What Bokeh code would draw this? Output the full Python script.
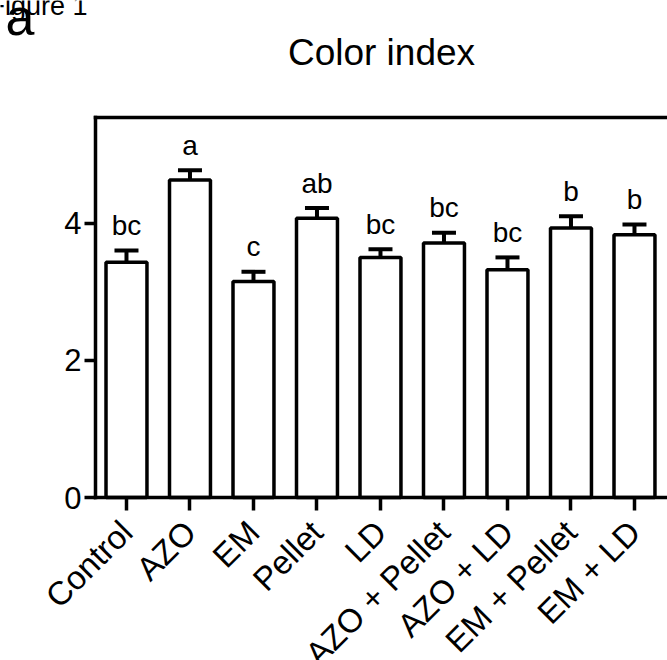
import math
from bokeh.plotting import figure
from bokeh.models import (ColumnDataSource, Whisker, TeeHead, LinearAxis,
                          FixedTicker, Range1d, Label)
from bokeh.core.properties import value
from bokeh.embed import file_html
from bokeh.resources import INLINE

categories = ["Control", "AZO", "EM", "Pellet", "LD",
              "AZO + Pellet", "AZO + LD", "EM + Pellet", "EM + LD"]
means = [3.43, 4.63, 3.15, 4.07, 3.50, 3.71, 3.32, 3.93, 3.83]
sems = [0.17, 0.14, 0.14, 0.15, 0.12, 0.15, 0.18, 0.17, 0.15]
letters = ["bc", "a", "c", "ab", "bc", "bc", "bc", "b", "b"]
y_ticks = [0, 2, 4]

FONT = "Liberation Sans"
xs = list(range(len(categories)))
src = ColumnDataSource(dict(
    x=xs, mean=means,
    upper=[m + s for m, s in zip(means, sems)],
    lower=[m - s for m, s in zip(means, sems)],
    letter=letters,
))

# plot box (in data units) and view range
X0, X1 = -0.488, 8.52
Y0, Y1 = 0.0, 5.535

p = figure(width=667, height=660,
           x_range=Range1d(-1.984, 8.52), y_range=Range1d(-2.376, 7.245),
           output_backend="svg", toolbar_location=None,
           min_border_left=0, min_border_right=0, min_border_top=0,
           min_border_bottom=0, x_axis_type=None, y_axis_type=None)
p.outline_line_color = None
p.xgrid.visible = False
p.ygrid.visible = False
p.background_fill_color = "white"
p.border_fill_color = "white"

# bars
p.vbar(x="x", top="mean", bottom=0, width=0.645, source=src,
       fill_color="white", line_color="black", line_width=3.5)

# error bars
w = Whisker(base="x", upper="upper", lower="lower", source=src,
            line_color="black", line_width=4,
            upper_head=TeeHead(size=24, line_width=4, line_color="black"),
            lower_head=TeeHead(size=24, line_width=4, line_color="black"))
p.add_layout(w)

# significance letters
p.text(x="x", y="upper", text="letter", source=src, y_offset=-25,
       text_align="center", text_baseline="alphabetic",
       text_font=value(FONT), text_font_size="28px", text_color="black")

# axes
xaxis = LinearAxis(ticker=FixedTicker(ticks=xs, minor_ticks=[]),
                   major_label_overrides={i: c for i, c in zip(xs, categories)},
                   fixed_location=Y0, bounds=(X0, X1))
xaxis.major_label_orientation = math.pi / 4
yaxis = LinearAxis(ticker=FixedTicker(ticks=y_ticks, minor_ticks=[]),
                   fixed_location=X0, bounds=(Y0, Y1))
top = LinearAxis(ticker=FixedTicker(ticks=[], minor_ticks=[]),
                 fixed_location=Y1, bounds=(X0, X1))
for ax in (xaxis, yaxis, top):
    ax.axis_line_color = "black"
    ax.axis_line_width = 3.5
    ax.axis_line_cap = "square"
    ax.major_tick_line_color = "black"
    ax.major_tick_line_width = 3.5
    ax.major_tick_in = 0
    ax.minor_tick_line_color = None
    ax.major_label_text_font = FONT
    ax.major_label_text_color = "black"
    ax.major_label_text_font_size = "31px"
xaxis.major_label_text_font_size = "33px"
xaxis.major_tick_out = 13
xaxis.major_label_standoff = 16
yaxis.major_tick_out = 11
yaxis.major_label_standoff = 3
top.major_label_text_font_size = "0px"
top.major_tick_out = 0
p.add_layout(xaxis, "below")
p.add_layout(yaxis, "left")
p.add_layout(top, "above")

# texts around the plot box (screen px from the canvas bottom-left)
p.add_layout(Label(x=381, y=608, x_units="screen", y_units="screen",
                   text="Color index", text_font=FONT, text_font_size="37px",
                   text_align="center", text_baseline="alphabetic",
                   text_color="black"))
p.add_layout(Label(x=5, y=644, x_units="screen", y_units="screen",
                   text="a", text_font=FONT, text_font_size="52px",
                   text_align="left", text_baseline="alphabetic",
                   text_color="black"))
p.add_layout(Label(x=-12, y=655, x_units="screen", y_units="screen",
                   text="Figure 1", text_font=FONT, text_font_size="27px",
                   text_align="left", text_baseline="alphabetic",
                   text_color="black"))

open("out.html", "w").write(file_html(p, INLINE))
